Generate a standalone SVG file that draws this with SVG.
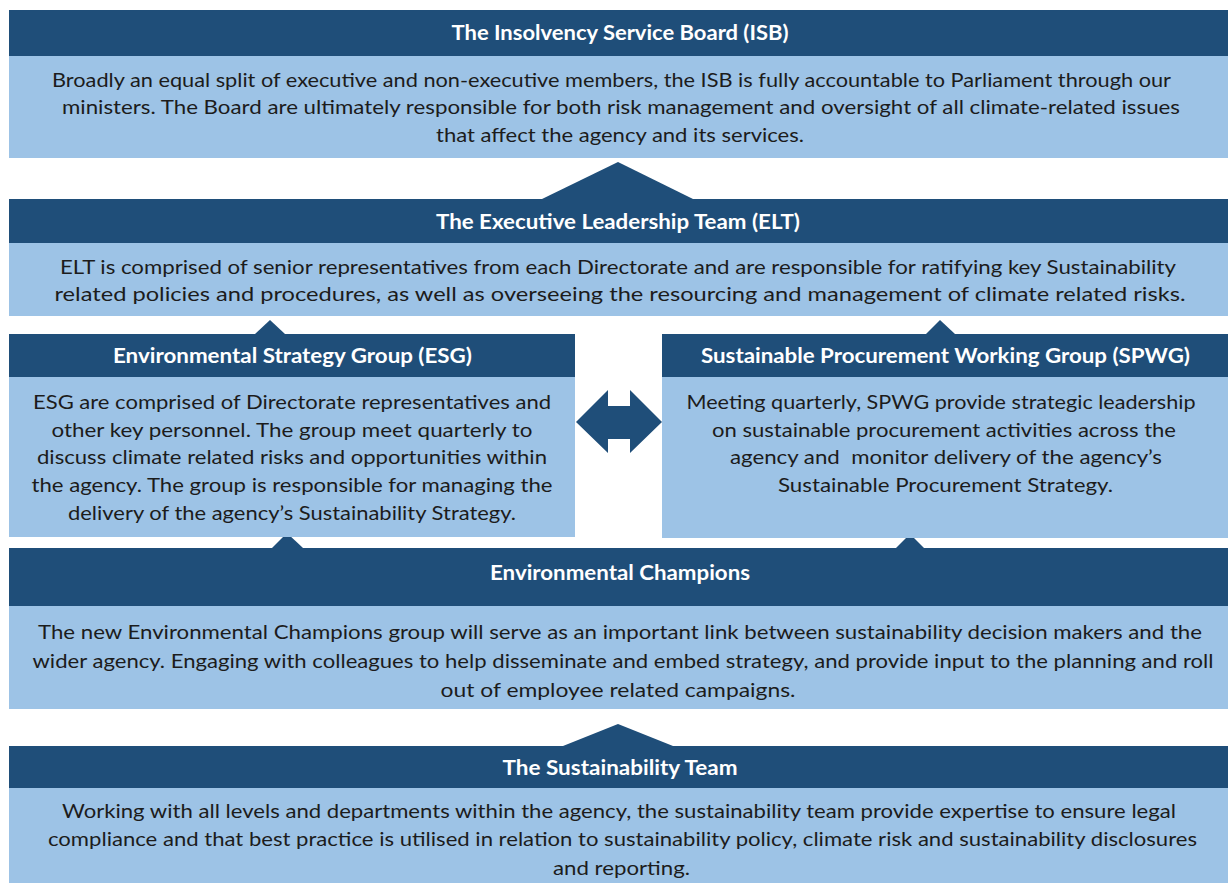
<svg xmlns="http://www.w3.org/2000/svg" width="1228" height="883" viewBox="0 0 1228 883">
<style>
.hd{fill:#1F4E79}
.bd{fill:#9DC3E6}
.ht{font-family:Lato,"Open Sans","Liberation Sans",sans-serif;font-weight:bold;font-size:20px;fill:#ffffff;text-anchor:middle}
.bt{font-family:Lato,"Open Sans","Liberation Sans",sans-serif;font-size:20px;fill:#1c1c1c;text-anchor:middle}
.cn{fill:#1F4E79}
</style>
<rect x="0" y="0" width="1228" height="883" fill="#ffffff"/>
<g id="connectors">
<polygon class="cn" points="542,199 618,162 693,199"/>
<polygon class="cn" points="255,334 270,320 285,334"/>
<polygon class="cn" points="926,334 940,320 955,334"/>
<polygon class="cn" points="272,548 287,533 303,548"/>
<polygon class="cn" points="895,549 910,534 925,549"/>
<polygon class="cn" points="563,746 618,724 673,746"/>
<polygon class="cn" points="576,422 608,390 608,406 630,406 630,390 662,422 630,453 630,439 608,439 608,453"/>
</g>
<g id="isb">
<rect class="hd" x="9" y="10" width="1219" height="46"/>
<rect class="bd" x="9" y="56" width="1219" height="102"/>
<text class="ht" x="620" y="40" textLength="337" lengthAdjust="spacingAndGlyphs">The Insolvency Service Board (ISB)</text>
<text class="bt" x="611.5" y="87" textLength="1119" lengthAdjust="spacingAndGlyphs">Broadly an equal split of executive and non-executive members, the ISB is fully accountable to Parliament through our</text>
<text class="bt" x="621" y="114" textLength="1118" lengthAdjust="spacingAndGlyphs">ministers. The Board are ultimately responsible for both risk management and oversight of all climate-related issues</text>
<text class="bt" x="620" y="142" textLength="368" lengthAdjust="spacingAndGlyphs">that affect the agency and its services.</text>
</g>
<g id="elt">
<rect class="hd" x="9" y="199" width="1219" height="44"/>
<rect class="bd" x="9" y="243" width="1219" height="73"/>
<text class="ht" x="618" y="229" textLength="364" lengthAdjust="spacingAndGlyphs">The Executive Leadership Team (ELT)</text>
<text class="bt" x="618" y="274" textLength="1116" lengthAdjust="spacingAndGlyphs">ELT is comprised of senior representatives from each Directorate and are responsible for ratifying key Sustainability</text>
<text class="bt" x="620" y="301" textLength="1131" lengthAdjust="spacingAndGlyphs">related policies and procedures, as well as overseeing the resourcing and management of climate related risks.</text>
</g>
<g id="esg">
<rect class="hd" x="9" y="334" width="566" height="43"/>
<rect class="bd" x="9" y="377" width="566" height="160"/>
<text class="ht" x="292.5" y="363" textLength="359" lengthAdjust="spacingAndGlyphs">Environmental Strategy Group (ESG)</text>
<text class="bt" x="292" y="409" textLength="518" lengthAdjust="spacingAndGlyphs">ESG are comprised of Directorate representatives and</text>
<text class="bt" x="292" y="436.7" textLength="481" lengthAdjust="spacingAndGlyphs">other key personnel. The group meet quarterly to</text>
<text class="bt" x="292" y="464.4" textLength="510" lengthAdjust="spacingAndGlyphs">discuss climate related risks and opportunities within</text>
<text class="bt" x="292" y="492.1" textLength="521" lengthAdjust="spacingAndGlyphs">the agency. The group is responsible for managing the</text>
<text class="bt" x="292" y="519.8" textLength="448" lengthAdjust="spacingAndGlyphs">delivery of the agency’s Sustainability Strategy.</text>
</g>
<g id="spwg">
<rect class="hd" x="662" y="334" width="566" height="43"/>
<rect class="bd" x="662" y="377" width="566" height="161"/>
<text class="ht" x="945.5" y="363" textLength="489" lengthAdjust="spacingAndGlyphs">Sustainable Procurement Working Group (SPWG)</text>
<text class="bt" x="941" y="409" textLength="509" lengthAdjust="spacingAndGlyphs">Meeting quarterly, SPWG provide strategic leadership</text>
<text class="bt" x="944" y="436.7" textLength="464" lengthAdjust="spacingAndGlyphs">on sustainable procurement activities across the</text>
<text class="bt" x="946" y="464.4" textLength="432" lengthAdjust="spacingAndGlyphs" xml:space="preserve">agency and  monitor delivery of the agency’s</text>
<text class="bt" x="945.5" y="492.1" textLength="335" lengthAdjust="spacingAndGlyphs">Sustainable Procurement Strategy.</text>
</g>
<g id="champions">
<rect class="hd" x="9" y="548" width="1219" height="58"/>
<rect class="bd" x="9" y="606" width="1219" height="103"/>
<text class="ht" x="620" y="580" textLength="260" lengthAdjust="spacingAndGlyphs">Environmental Champions</text>
<text class="bt" x="620" y="639" textLength="1164" lengthAdjust="spacingAndGlyphs">The new Environmental Champions group will serve as an important link between sustainability decision makers and the</text>
<text class="bt" x="623" y="668" textLength="1181" lengthAdjust="spacingAndGlyphs">wider agency. Engaging with colleagues to help disseminate and embed strategy, and provide input to the planning and roll</text>
<text class="bt" x="618" y="697" textLength="355" lengthAdjust="spacingAndGlyphs">out of employee related campaigns.</text>
</g>
<g id="sustainability-team">
<rect class="hd" x="9" y="746" width="1219" height="42"/>
<rect class="bd" x="9" y="788" width="1219" height="95"/>
<text class="ht" x="620" y="775" textLength="235" lengthAdjust="spacingAndGlyphs">The Sustainability Team</text>
<text class="bt" x="619" y="818" textLength="1114" lengthAdjust="spacingAndGlyphs">Working with all levels and departments within the agency, the sustainability team provide expertise to ensure legal</text>
<text class="bt" x="622.5" y="846" textLength="1149" lengthAdjust="spacingAndGlyphs">compliance and that best practice is utilised in relation to sustainability policy, climate risk and sustainability disclosures</text>
<text class="bt" x="621.5" y="875" textLength="137" lengthAdjust="spacingAndGlyphs">and reporting.</text>
</g>
</svg>
